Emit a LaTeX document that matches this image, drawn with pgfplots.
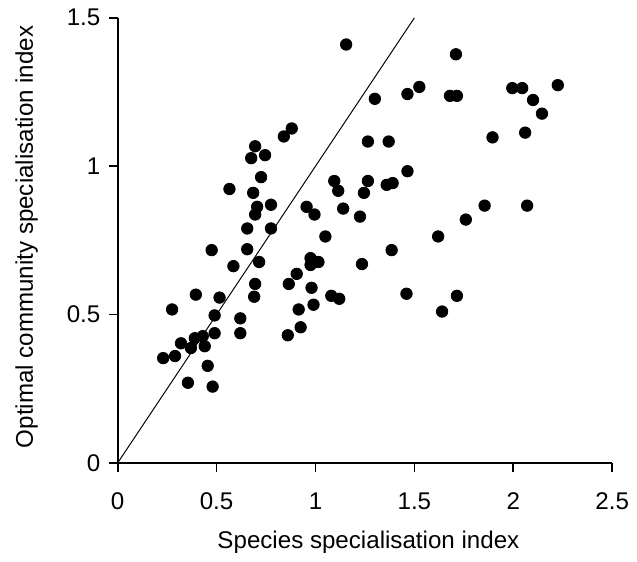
\documentclass[border=0pt]{standalone}
\usepackage{fontspec}
\setmainfont{Liberation Sans}
\usepackage{pgfplots}
\pgfplotsset{compat=1.18}

\begin{document}
\begin{tikzpicture}
\fontsize{12.2bp}{14bp}\selectfont
\begin{axis}[
  at={(0,0)}, anchor=origin,
  scale only axis,
  width=250bp, height=225bp,
  xmin=0, xmax=2.5, ymin=0, ymax=1.5,
  axis lines=left,
  axis line style={line width=0.9bp, -},
  xtick={0,0.5,1,1.5,2,2.5},
  ytick={0,0.5,1,1.5},
  xticklabels={0,0.5,1,1.5,2,2.5},
  yticklabels={0,0.5,1,1.5},
  xtick align=outside, ytick align=outside,
  xtick style={draw=black, line width=0.9bp},
  ytick style={draw=black, line width=0.9bp},
  major tick length=4.5bp,
  /pgf/number format/assume math mode=true,
  ticklabel style={font=\fontsize{12.2bp}{14bp}\selectfont},
  xticklabel style={yshift=-6.5bp},
  xlabel={Species specialisation index},
  ylabel={Optimal community specialisation index},
  label style={font=\fontsize{12.2bp}{14bp}\selectfont},
  xlabel style={at={(axis description cs:0.5,0)}, anchor=base, yshift=-43.5bp, xshift=1.75bp},
  ylabel style={at={(axis description cs:0,0.5)}, anchor=center, yshift=46bp, xshift=1.75bp},
  clip=false,
]
% line of equality
\addplot[black, line width=0.5bp, no marks] coordinates {(0,0) (1.5,1.5)};
% species
\addplot[only marks, mark=*, mark size=2.9bp, black, mark options={fill=black}] coordinates {
(0.84,1.10) (0.88,1.127) (0.695,1.067) (0.675,1.027) (0.745,1.037)
(0.725,0.963) (0.565,0.923) (0.685,0.91) (0.705,0.863) (0.775,0.87)
(0.695,0.837) (0.655,0.79) (0.775,0.79) (0.475,0.717) (0.655,0.72)
(0.585,0.663) (0.715,0.677) (0.695,0.603) (0.69,0.56) (0.395,0.567)
(0.515,0.557) (0.275,0.517) (0.49,0.497) (0.62,0.487) (0.49,0.437)
(0.62,0.437) (0.86,0.43) (0.32,0.403) (0.39,0.42) (0.43,0.427)
(0.44,0.393) (0.37,0.387) (0.29,0.36) (0.23,0.353) (0.455,0.327)
(0.355,0.27) (0.48,0.257) (1.155,1.41) (1.30,1.227) (1.465,1.243)
(1.525,1.267) (1.265,1.083) (1.37,1.083) (1.465,0.983) (1.095,0.95)
(1.115,0.917) (1.265,0.95) (1.245,0.91) (1.36,0.937) (1.39,0.943)
(0.955,0.863) (0.995,0.837) (1.14,0.857) (1.225,0.83) (1.05,0.763)
(1.62,0.763) (1.385,0.717) (0.975,0.69) (1.015,0.677) (0.975,0.667)
(1.235,0.67) (0.905,0.637) (0.865,0.603) (0.98,0.59) (1.08,0.563)
(1.12,0.553) (1.46,0.57) (0.99,0.533) (0.915,0.517) (1.64,0.51)
(1.71,1.377) (1.995,1.263) (2.045,1.263) (2.225,1.273) (1.68,1.237)
(1.715,1.237) (2.10,1.223) (2.145,1.177) (1.895,1.097) (2.06,1.113)
(1.855,0.867) (2.07,0.867) (1.76,0.82) (1.715,0.563) (0.925,0.457)
};
\end{axis}
\useasboundingbox (-59.5bp,-46bp) rectangle (259bp,234bp);
\end{tikzpicture}
\end{document}
